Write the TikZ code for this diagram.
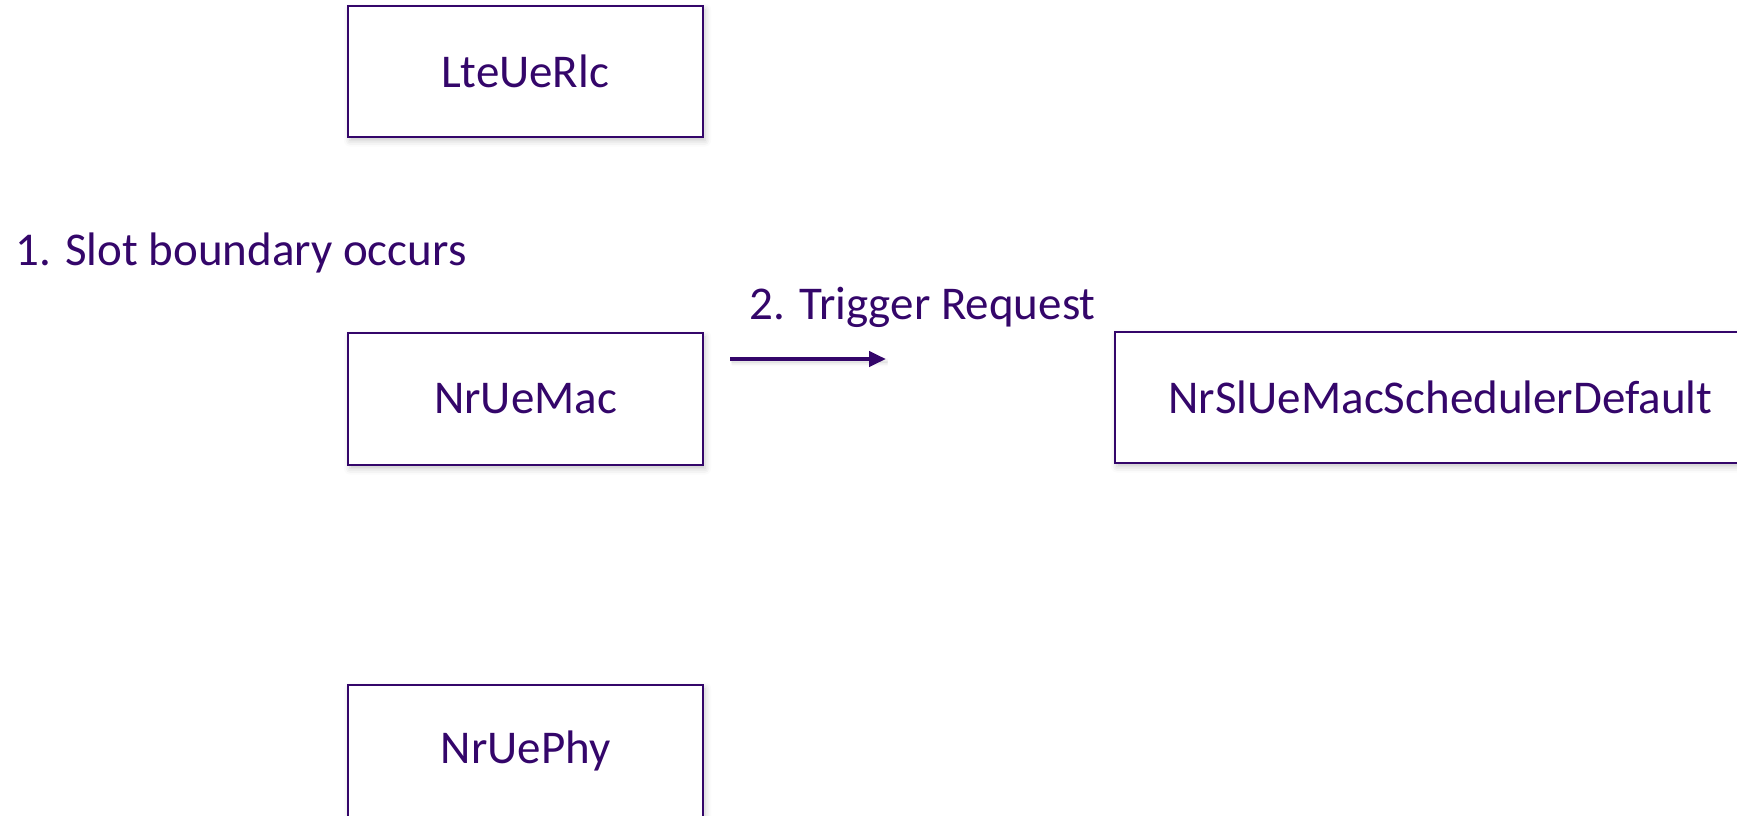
\documentclass[tikz,border=0pt]{standalone}
\usepackage{fontspec}
\setmainfont{Carlito}
\usetikzlibrary{arrows.meta,shadows.blur}
\definecolor{ink}{RGB}{52,6,106}
\tikzset{
  block/.style={draw=ink, line width=1.2pt, fill=white, rectangle, inner sep=0pt,
    text=ink, font=\fontsize{23.5}{28}\selectfont,
    blur shadow={shadow xshift=1pt, shadow yshift=-1.8pt, shadow blur radius=3pt, shadow opacity=22}},
  caption/.style={text=ink, inner sep=0pt, font=\fontsize{23.5}{28}\selectfont},
  flow/.style={draw=ink, line width=2pt,
    -{Triangle[length=8.5pt,width=7.5pt]}}
}
\begin{document}
\begin{tikzpicture}[x=0.5pt,y=0.5pt]
  \useasboundingbox (0,0) rectangle (1737,-815);
  \clip (0,0) rectangle (1737,-815);

  % layer boxes
  \node[block, minimum width=355*0.5pt, minimum height=131*0.5pt] (rlc) at (525.5,-71.5) {LteUeRlc};
  \node[block, minimum width=355*0.5pt, minimum height=132*0.5pt] (mac) at (525.5,-399) {NrUeMac};
  \node[block, minimum width=355*0.5pt, minimum height=132*0.5pt] (phy) at (525.5,-751) {NrUePhy};
  \node[block, minimum width=651*0.5pt, minimum height=131*0.5pt] (sched) at (1440.5,-397.5) {NrSlUeMacSchedulerDefault};

  % step annotations
  \node[caption, anchor=base west] (slot) at (15,-265) {1. Slot boundary occurs};
  \node[caption, anchor=base west] (trig) at (749,-319) {2. Trigger Request};

  % trigger arrow
  \coordinate (a0) at (730,-359);
  \coordinate (a1) at (886,-359);
  \draw[flow, blur shadow={shadow xshift=0.8pt, shadow yshift=-1.5pt, shadow blur radius=2pt, shadow opacity=22}] (a0) -- (a1);
\end{tikzpicture}
\end{document}
